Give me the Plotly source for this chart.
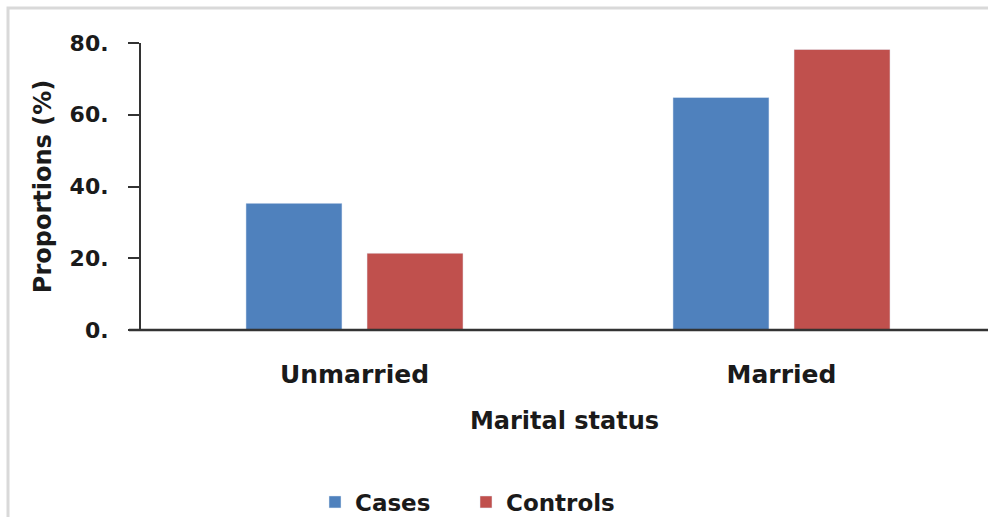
import plotly.graph_objects as go

# Marital status of cases vs controls (%)
categories = ["Unmarried", "Married"]
cases = [35.3, 64.8]
controls = [21.4, 78.2]
y_tick_vals = [0, 20, 40, 60, 80]
y_tick_text = ["0.", "20.", "40.", "60.", "80."]

W, H = 988, 517
ML, MR, MT, MB = 141, 0, 43, 187
PW, PH = W - ML - MR, H - MT - MB

FONT = "DejaVu Sans"
TXT = "#1a1a1a"
AX = "#333333"


def px_x(px):
    return (px - ML) / PW


def px_y(py):
    return (H - MB - py) / PH


def bold(size):
    return dict(family=FONT, size=size, color=TXT, weight="bold")


fig = go.Figure()
fig.add_trace(go.Bar(name="Cases", x=categories, y=cases, marker_color="#4F81BD"))
fig.add_trace(go.Bar(name="Controls", x=categories, y=controls, marker_color="#C0504D"))

fig.update_layout(
    width=W, height=H, autosize=False,
    margin=dict(l=ML, r=MR, t=MT, b=MB, pad=0, autoexpand=False),
    paper_bgcolor="white", plot_bgcolor="white",
    barmode="group", bargap=0.433, bargroupgap=0.207,
    font=dict(family=FONT, color=TXT),
    showlegend=True,
    legend=dict(
        orientation="h", x=px_x(315), xanchor="left",
        y=px_y(502), yanchor="middle",
        font=bold(23),
        traceorder="normal", entrywidthmode="pixels", entrywidth=106,
    ),
)

fig.update_xaxes(
    type="category",
    range=[-0.5, PW / 427 - 0.5],
    showline=False, showgrid=False, zeroline=False, ticks="",
    tickfont=bold(25),
    ticklabelstandoff=27,
    title=dict(text="Marital status", standoff=24, font=bold(24)),
)

fig.update_yaxes(
    range=[0, 80],
    tickvals=y_tick_vals, ticktext=y_tick_text,
    showline=True, linecolor=AX, linewidth=2,
    ticks="outside", ticklen=11, tickwidth=2, tickcolor=AX,
    showgrid=False, zeroline=False,
    tickfont=bold(22),
    ticklabelstandoff=15,
    title=dict(text="Proportions (%)", standoff=11, font=bold(24)),
)

# category axis line, starting just left of the value axis
fig.add_shape(type="line", xref="paper", yref="paper",
              x0=px_x(129), x1=px_x(W + 10), y0=0, y1=0,
              line=dict(color=AX, width=2.5), layer="above")

# chart-area frame
fig.add_shape(type="rect", xref="paper", yref="paper",
              x0=px_x(8), x1=px_x(W + 40), y0=px_y(H + 40), y1=px_y(8),
              line=dict(color="#d9d9d9", width=3), layer="below")

fig.write_html("out.html")
